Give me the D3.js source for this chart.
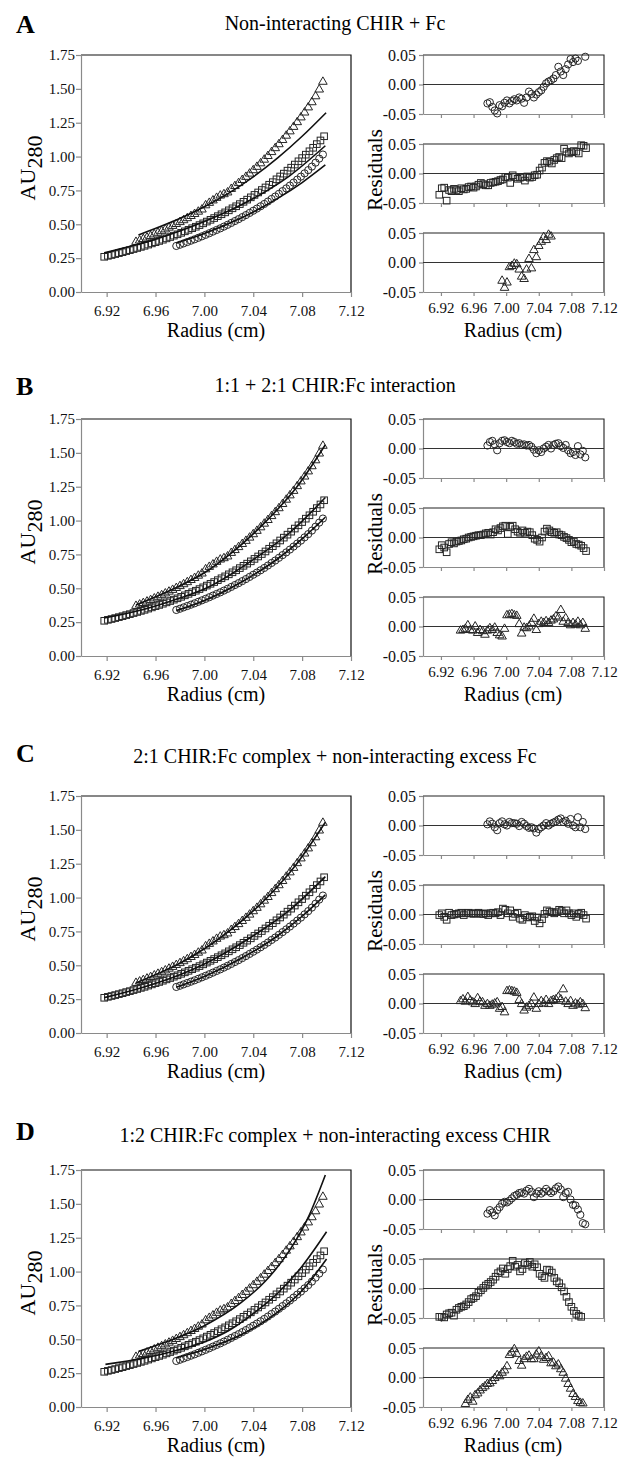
<!DOCTYPE html>
<html>
<head>
<meta charset="utf-8">
<title>CHIR:Fc sedimentation equilibrium fits</title>
<style>
  body { margin: 0; background: #fff; }
  svg { display: block; }
  svg text { font-family: "Liberation Serif", "Times New Roman", serif; }
</style>
</head>
<body>
<svg width="624" height="1457"></svg>
<script src="https://cdn.jsdelivr.net/npm/d3@7"></script>
<script>
// ---- labels ----
const letters = ["A", "B", "C", "D"]
const titles = [
  "Non-interacting CHIR + Fc",
  "1:1 + 2:1 CHIR:Fc interaction",
  "2:1 CHIR:Fc complex + non-interacting excess Fc",
  "1:2 CHIR:Fc complex + non-interacting excess CHIR"
]
const xTicks = [6.92, 6.96, 7.00, 7.04, 7.08, 7.12]
const yTicks = [0, 0.25, 0.5, 0.75, 1.0, 1.25, 1.5, 1.75]
const resTicks = [-0.05, 0, 0.05]

// ---- radii of the scans (cm) ----
const rCirc = [6.977,6.980,6.983,6.986,6.989,6.992,6.995,6.998,7.001,7.004,7.007,7.010,7.013,7.016,7.019,7.022,7.025,7.028,7.031,7.034,7.037,7.040,7.043,7.046,7.049,7.052,7.055,7.058,7.061,7.064,7.067,7.070,7.073,7.076,7.079,7.082,7.085,7.088,7.091,7.094,7.097]
const rSq = [6.918,6.921,6.924,6.927,6.930,6.933,6.936,6.939,6.942,6.945,6.948,6.951,6.954,6.957,6.960,6.963,6.966,6.969,6.972,6.975,6.978,6.981,6.984,6.987,6.990,6.993,6.996,6.999,7.002,7.005,7.008,7.011,7.014,7.017,7.020,7.023,7.026,7.029,7.032,7.035,7.038,7.041,7.044,7.047,7.050,7.053,7.056,7.059,7.062,7.065,7.068,7.071,7.074,7.077,7.080,7.083,7.086,7.089,7.092,7.095,7.098]
const rTri = [6.944,6.947,6.950,6.953,6.956,6.959,6.962,6.965,6.968,6.971,6.974,6.977,6.980,6.983,6.986,6.989,6.992,6.995,6.998,7.001,7.004,7.007,7.010,7.013,7.016,7.019,7.022,7.025,7.028,7.031,7.034,7.037,7.040,7.043,7.046,7.049,7.052,7.055,7.058,7.061,7.064,7.067,7.070,7.073,7.076,7.079,7.082,7.085,7.088,7.091,7.094,7.097]

// ---- absorbance data (same in every panel) ----
const auCirc = [0.340,0.349,0.359,0.369,0.379,0.389,0.400,0.411,0.422,0.434,0.446,0.458,0.470,0.483,0.496,0.510,0.524,0.538,0.553,0.568,0.584,0.600,0.616,0.633,0.650,0.668,0.687,0.705,0.725,0.745,0.765,0.786,0.808,0.830,0.852,0.876,0.900,0.926,0.955,0.985,1.015]
const auSq = [0.260,0.267,0.273,0.280,0.287,0.294,0.302,0.309,0.317,0.325,0.333,0.341,0.350,0.359,0.368,0.377,0.386,0.396,0.406,0.416,0.426,0.437,0.448,0.459,0.471,0.482,0.494,0.507,0.520,0.533,0.546,0.560,0.574,0.588,0.603,0.618,0.633,0.649,0.666,0.682,0.699,0.717,0.735,0.753,0.772,0.792,0.811,0.832,0.853,0.874,0.896,0.918,0.941,0.965,0.989,1.014,1.039,1.065,1.092,1.119,1.150]
const auTri = [0.370,0.380,0.391,0.402,0.413,0.425,0.437,0.449,0.462,0.475,0.488,0.502,0.516,0.530,0.545,0.561,0.576,0.593,0.609,0.640,0.658,0.676,0.695,0.712,0.722,0.735,0.761,0.782,0.804,0.827,0.850,0.874,0.899,0.924,0.950,0.977,1.004,1.033,1.062,1.091,1.122,1.154,1.186,1.219,1.254,1.289,1.325,1.363,1.401,1.445,1.495,1.552]

// ---- model fits [radius, AU] ----
const fitCircA = [[6.977,0.362],[7.000,0.432],[7.030,0.546],[7.060,0.691],[7.080,0.808],[7.099,0.938]]
const fitSqA = [[6.918,0.290],[6.960,0.390],[7.000,0.520],[7.040,0.690],[7.070,0.860],[7.099,1.080]]
const fitTriA = [[6.946,0.421],[6.970,0.505],[7.000,0.630],[7.020,0.730],[7.040,0.850],[7.060,0.990],[7.080,1.150],[7.0996,1.324]]
const fitCircB = [[6.977,0.335],[7.000,0.410],[7.030,0.545],[7.060,0.718],[7.080,0.865],[7.099,1.025]]
const fitSqB = [[6.918,0.280],[6.950,0.343],[6.980,0.428],[7.000,0.495],[7.040,0.712],[7.070,0.912],[7.099,1.170]]
const fitTriB = [[6.944,0.377],[6.980,0.519],[7.000,0.615],[7.020,0.745],[7.050,0.990],[7.075,1.240],[7.099,1.560]]
const fitCircC = [[6.977,0.338],[7.000,0.418],[7.030,0.550],[7.060,0.718],[7.080,0.862],[7.099,1.020]]
const fitSqC = [[6.918,0.261],[6.950,0.338],[6.980,0.430],[7.000,0.510],[7.040,0.718],[7.070,0.910],[7.099,1.155]]
const fitTriC = [[6.944,0.370],[6.980,0.516],[7.000,0.622],[7.020,0.750],[7.050,0.988],[7.075,1.243],[7.099,1.556]]
const fitCircD = [[6.977,0.364],[7.000,0.425],[7.030,0.533],[7.060,0.700],[7.080,0.860],[7.100,1.093]]
const fitSqD = [[6.919,0.315],[6.950,0.360],[6.980,0.425],[7.000,0.480],[7.020,0.565],[7.040,0.690],[7.060,0.840],[7.080,1.040],[7.100,1.294]]
const fitTriD = [[6.946,0.410],[6.970,0.485],[7.000,0.600],[7.030,0.770],[7.050,0.930],[7.070,1.160],[7.085,1.400],[7.099,1.713]]

// ---- residuals (null = off scale) ----
const resCircA = [-0.032,-0.030,-0.038,-0.044,-0.049,-0.035,-0.037,-0.031,-0.027,-0.032,-0.028,-0.025,-0.027,-0.022,-0.024,-0.031,-0.022,-0.012,-0.016,-0.022,-0.017,-0.013,-0.010,-0.004,0.002,0.005,0.007,0.010,0.016,0.030,0.022,0.016,0.026,0.034,0.043,0.038,0.044,0.040,null,null,0.047]
const resSqA = [-0.036,-0.025,-0.024,-0.046,-0.028,-0.030,-0.026,-0.028,-0.030,-0.025,-0.027,-0.026,-0.023,-0.022,-0.024,-0.022,-0.019,-0.016,-0.018,-0.020,-0.020,-0.016,-0.015,-0.014,-0.013,-0.011,-0.010,-0.006,-0.007,-0.016,-0.003,-0.006,-0.009,-0.007,-0.006,-0.012,-0.005,-0.007,-0.006,-0.003,-0.002,0.005,0.010,0.018,0.021,0.020,0.017,0.023,0.026,0.028,0.026,0.042,0.037,0.034,0.036,0.038,0.037,0.034,0.048,0.047,0.043]
const resTriA = [null,null,null,null,null,null,null,null,null,null,null,null,null,null,null,null,null,-0.031,-0.043,-0.034,-0.008,-0.006,-0.002,-0.003,-0.012,-0.024,-0.028,-0.012,0.006,-0.010,0.021,0.009,0.028,0.035,0.043,0.038,0.047,0.044,null,null,null,null,null,null,null,null,null,null,null,null,null,null]
const resCircB = [0.005,0.011,0.013,0.007,-0.003,0.009,0.013,0.014,0.011,0.009,0.013,0.011,0.008,0.009,0.006,0.007,0.005,0.006,0.003,-0.002,-0.008,-0.003,-0.006,0.000,0.003,0.006,0.000,0.006,0.008,0.009,0.004,0.001,0.006,-0.003,-0.008,-0.006,-0.011,0.004,-0.010,-0.004,-0.015]
const resSqB = [-0.020,-0.013,-0.017,-0.025,-0.011,-0.008,-0.010,-0.007,-0.006,-0.005,-0.003,-0.002,0.000,0.001,0.002,0.003,0.004,0.004,0.005,0.007,0.008,0.005,0.009,0.014,0.012,0.016,0.019,0.020,0.006,0.018,0.020,0.014,0.010,0.008,0.012,0.008,0.010,0.009,0.004,-0.002,-0.004,-0.007,0.000,0.010,0.015,0.012,0.009,0.008,0.009,0.005,0.004,0.001,-0.001,-0.004,-0.008,-0.007,-0.011,-0.012,-0.014,-0.018,-0.023]
const resTriB = [-0.007,-0.006,-0.004,0.002,-0.006,-0.007,0.000,-0.011,-0.006,-0.008,-0.014,-0.007,-0.003,-0.006,-0.002,-0.011,-0.015,-0.017,-0.004,0.019,0.020,0.021,0.019,0.018,0.004,-0.012,-0.002,-0.003,0.000,0.006,0.013,-0.006,0.004,0.008,0.006,0.009,0.006,0.010,0.012,0.017,0.015,0.028,0.008,0.014,0.006,0.002,0.006,0.003,0.008,0.002,0.006,-0.004]
const resCircC = [0.002,0.007,0.003,-0.003,-0.008,0.004,0.007,0.002,0.000,0.006,0.004,0.004,0.003,-0.001,0.006,0.003,-0.001,-0.004,-0.003,-0.005,-0.012,-0.006,-0.003,0.000,0.004,0.000,0.003,0.005,0.007,0.010,0.012,0.006,0.008,0.003,0.011,0.000,-0.003,0.014,-0.003,0.006,-0.006]
const resSqC = [-0.001,0.002,-0.004,-0.009,0.003,-0.001,0.000,0.001,0.002,0.003,-0.001,0.002,0.003,0.002,0.001,0.002,0.003,0.001,0.001,0.002,-0.001,0.002,0.003,0.002,0.004,-0.001,0.010,0.008,0.002,0.007,-0.004,0.001,0.003,-0.007,-0.009,-0.001,-0.005,-0.004,-0.003,-0.011,-0.005,-0.015,-0.008,0.001,0.007,0.005,0.004,0.002,0.004,0.008,0.006,0.002,0.007,0.002,-0.001,0.002,-0.004,0.001,0.003,-0.001,-0.007]
const resTriC = [0.004,0.007,0.003,0.011,0.005,0.002,-0.001,0.009,0.003,0.002,-0.004,-0.001,-0.004,-0.002,0.000,0.002,-0.009,-0.006,-0.015,0.021,0.022,0.021,0.020,0.018,0.006,-0.001,-0.012,-0.007,-0.004,-0.001,0.010,-0.009,-0.001,0.004,0.000,0.006,-0.001,0.004,0.006,0.007,0.011,0.007,0.024,0.003,-0.001,0.004,-0.004,0.000,-0.002,0.002,-0.001,-0.008]
const resCircD = [-0.024,-0.018,-0.022,-0.027,-0.018,-0.013,-0.007,-0.004,-0.005,-0.002,0.002,0.006,0.008,0.011,0.012,0.010,0.015,0.018,0.013,0.004,0.010,0.014,0.010,0.013,0.018,0.014,0.011,0.014,0.019,0.022,0.017,0.004,0.011,0.013,0.000,-0.009,-0.010,-0.017,-0.026,-0.040,-0.042]
const resSqD = [-0.048,-0.048,-0.049,-0.044,-0.042,-0.041,-0.046,-0.036,-0.033,-0.031,-0.030,-0.027,-0.023,-0.018,-0.016,-0.013,-0.007,-0.003,0.001,0.005,0.008,0.011,0.015,0.020,0.026,0.029,0.034,0.025,0.033,0.038,0.047,0.037,0.040,0.029,0.033,0.043,0.040,0.045,0.037,0.041,0.036,0.025,0.021,0.018,0.032,0.031,0.027,0.018,0.012,0.009,0.002,-0.005,-0.014,-0.023,-0.031,-0.038,-0.043,-0.046,-0.048,null,null]
const resTriD = [null,null,-0.045,-0.038,-0.034,-0.041,-0.030,-0.027,-0.022,-0.018,-0.015,-0.011,-0.010,-0.006,-0.001,0.004,0.002,0.008,0.012,0.019,0.038,0.042,0.048,0.040,0.028,0.020,0.031,0.035,0.037,0.031,0.031,0.039,0.044,0.036,0.030,0.033,0.036,0.024,0.025,0.019,0.022,0.014,0.008,-0.002,-0.011,-0.019,-0.028,-0.033,-0.040,-0.043,-0.044,null]

// tables built from the arrays above
const fits = [[fitCircA, fitSqA, fitTriA], [fitCircB, fitSqB, fitTriB], [fitCircC, fitSqC, fitTriC], [fitCircD, fitSqD, fitTriD]]
const residuals = [[resCircA, resSqA, resTriA], [resCircB, resSqB, resTriB], [resCircC, resSqC, resTriC], [resCircD, resSqD, resTriD]]
const radii = [rCirc, rSq, rTri]
const absorb = [auCirc, auSq, auTri]
const shapes = ["circle", "square", "triangle"]

// ---- layout ----
const FONT = '"Liberation Serif", "Times New Roman", serif'
const mainTops = [55, 419, 796, 1170]
const letterY = [33, 395, 762, 1140]
const titleY = [30, 392, 763, 1142]
const mainH = 237, resH = 59, resGap = 89

const svg = d3.select("svg")
const pair = (r, v) => r.map((x, i) => [x, v[i]]).filter(d => d[1] != null)
const markStroke = "#262626"
const triPath = d3.symbol(d3.symbolTriangle, 32)()

function drawMarks(g, pts, shape, x, y) {
  let sel = g.append("g").attr("fill", "none").attr("stroke", markStroke).attr("stroke-width", 1)
  if (shape == "circle") {
    sel.selectAll("circle").data(pts).enter().append("circle")
      .attr("cx", d => x(d[0])).attr("cy", d => y(d[1])).attr("r", 3.6)
  } else if (shape == "square") {
    sel.selectAll("rect").data(pts).enter().append("rect")
      .attr("x", d => x(d[0]) - 3.3).attr("y", d => y(d[1]) - 3.3)
      .attr("width", 6.6).attr("height", 6.6)
  } else {
    sel.selectAll("path").data(pts).enter().append("path")
      .attr("d", triPath)
      .attr("transform", d => `translate(${x(d[0])},${y(d[1])})`)
  }
}

function styleAxis(g, size) {
  g.attr("font-family", FONT).attr("font-size", size)
  g.select(".domain").attr("stroke", "#8a8a8a").attr("stroke-width", 1.2)
  g.selectAll(".tick line").attr("stroke", "#8a8a8a").attr("stroke-width", 1.2)
  g.selectAll(".tick text").attr("fill", "#111")
}

letters.forEach((letter, p) => {
  let top = mainTops[p]

  svg.append("text").attr("x", 16).attr("y", letterY[p])
    .attr("font-size", 26).attr("font-weight", "bold").text(letter)
  svg.append("text").attr("x", 335).attr("y", titleY[p]).attr("text-anchor", "middle")
    .attr("font-size", 20).text(titles[p])

  // main plot
  let x = d3.scaleLinear().domain([6.899, 7.12]).range([81, 351])
  let y = d3.scaleLinear().domain([0, 1.75]).range([top + mainH, top])
  let g = svg.append("g")

  g.append("path").attr("fill", "none").attr("stroke", "#111").attr("stroke-width", 1.2)
    .attr("d", `M81,${top}H351V${top + mainH}`)

  let ax = g.append("g").attr("transform", `translate(0,${top + mainH})`)
    .call(d3.axisBottom(x).tickValues(xTicks).tickFormat(d3.format(".2f")).tickSize(5).tickSizeOuter(0).tickPadding(8))
  styleAxis(ax, 15)
  let ay = g.append("g").attr("transform", "translate(81,0)")
    .call(d3.axisLeft(y).tickValues(yTicks).tickFormat(d3.format(".2f")).tickSize(5).tickSizeOuter(0).tickPadding(1))
  styleAxis(ay, 15)

  shapes.forEach((s, k) => drawMarks(g, pair(radii[k], absorb[k]), s, x, y))

  let line = d3.line().x(d => x(d[0])).y(d => y(d[1])).curve(d3.curveMonotoneX)
  fits[p].forEach(f => {
    g.append("path").attr("fill", "none").attr("stroke", "#111").attr("stroke-width", 1.6).attr("d", line(f))
  })

  let au = g.append("text").attr("transform", `translate(35,${top + 113}) rotate(-90)`)
    .attr("text-anchor", "middle").attr("font-size", 22)
  au.append("tspan").text("AU")
  au.append("tspan").attr("dy", 7).text("280")

  g.append("text").attr("x", 216).attr("y", top + 282).attr("text-anchor", "middle")
    .attr("font-size", 20).text("Radius (cm)")

  // residual plots
  let rx = d3.scaleLinear().domain([6.898, 7.12]).range([423, 604])
  shapes.forEach((s, k) => {
    let rt = top + k * resGap
    let ry = d3.scaleLinear().domain([-0.05, 0.05]).range([rt + resH, rt])
    let rg = svg.append("g")
    let bx = rg.append("g").attr("transform", `translate(0,${rt + resH})`)
      .call(d3.axisBottom(rx).tickValues(xTicks).tickFormat(k == 2 ? d3.format(".2f") : "").tickSize(4).tickSizeOuter(0).tickPadding(6))
    styleAxis(bx, 15)
    let by = rg.append("g").attr("transform", "translate(423,0)")
      .call(d3.axisLeft(ry).tickValues(resTicks).tickFormat(d => d.toFixed(2)).tickSize(4).tickSizeOuter(0).tickPadding(3))
    styleAxis(by, 16)
    rg.append("path").attr("fill", "none").attr("stroke", "#222").attr("stroke-width", 1.1)
      .attr("d", `M423,${rt}H604V${rt + resH}`)
    rg.append("line").attr("x1", 423).attr("x2", 604).attr("y1", ry(0)).attr("y2", ry(0))
      .attr("stroke", "#333").attr("stroke-width", 1.1)
    drawMarks(rg, pair(radii[k], residuals[p][k]), s, rx, ry)
  })

  svg.append("text").attr("transform", `translate(382,${top + 115}) rotate(-90)`)
    .attr("text-anchor", "middle").attr("font-size", 21).text("Residuals")
  svg.append("text").attr("x", 513).attr("y", top + 282).attr("text-anchor", "middle")
    .attr("font-size", 20).text("Radius (cm)")
})

svg.selectAll("text").style("font-family", FONT)
</script>
</body>
</html>
